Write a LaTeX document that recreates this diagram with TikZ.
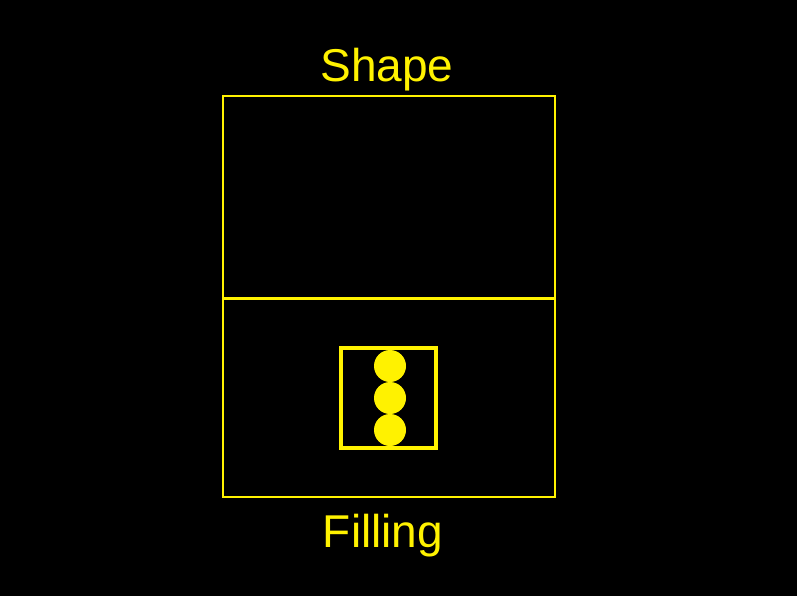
\documentclass[tikz,border=0pt]{standalone}
\usepackage{fontspec}
\setmainfont{Liberation Sans}
\begin{document}
\begin{tikzpicture}[x=1pt,y=-1pt,
  frame/.style={draw=yellow, line width=2pt},
  inner/.style={draw=yellow, line width=4.5pt},
  dot/.style={circle, fill=yellow, minimum size=32pt, inner sep=0pt},
  lbl/.style={text=yellow, font=\fontsize{46}{50}\selectfont, inner sep=0pt, anchor=base}]
\fill[black] (0,0) rectangle (797,596);
\useasboundingbox (0,0) rectangle (797,596);
\draw[frame] (223,96) rectangle (555,497);
\draw[draw=yellow, line width=3pt] (223,298) -- (555,298);
\draw[inner] (341,348) rectangle (436,448);
\node[dot] (c1) at (390,366) {};
\node[dot] (c2) at (390,398) {};
\node[dot] (c3) at (390,430) {};
\node[lbl] (shape) at (387,82) {Shape};
\node[lbl] (fill) at (383,547) {Filling};
\end{tikzpicture}
\end{document}
